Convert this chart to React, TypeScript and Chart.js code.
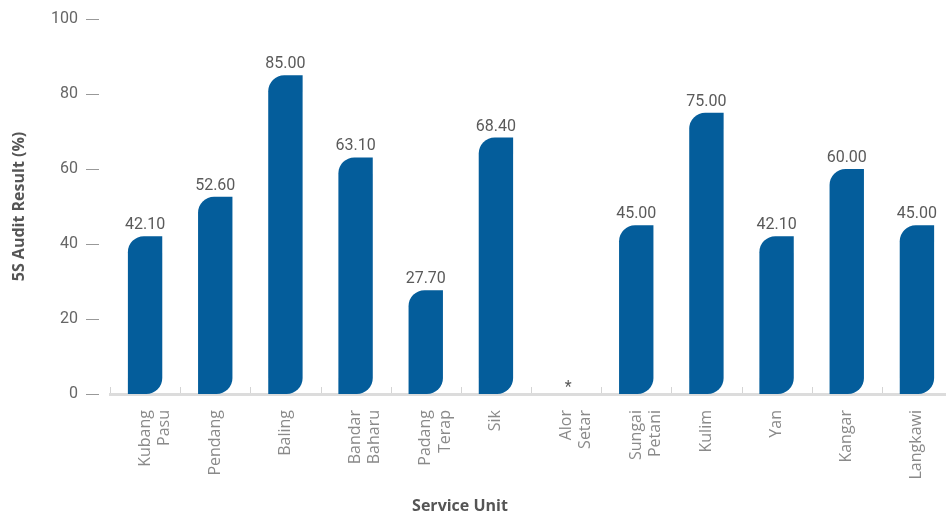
import React, { useEffect, useRef } from 'react';
import { Chart, registerables } from 'chart.js';

Chart.register(...registerables);

const categories: (string | string[])[] = [
  ['Kubang', 'Pasu'], 'Pendang', 'Baling', ['Bandar', 'Baharu'], ['Padang', 'Terap'], 'Sik',
  ['Alor', 'Setar'], ['Sungai', 'Petani'], 'Kulim', 'Yan', 'Kangar', 'Langkawi',
];
const values: (number | null)[] = [42.1, 52.6, 85.0, 63.1, 27.7, 68.4, null, 45.0, 75.0, 42.1, 60.0, 45.0];
const missingMark = '*';
const yTicks = [0, 20, 40, 60, 80, 100];
const yTitle = '5S Audit Result (%)';
const xTitle = 'Service Unit';

const FONT = 'Roboto, "Noto Sans", sans-serif';
const TITLE_FONT = '"Open Sans", Roboto, sans-serif';

const decor = {
  id: 'decor',
  afterDatasetsDraw(chart: any) {
    const ctx = chart.ctx;
    const meta = chart.getDatasetMeta(0);
    const xs = chart.scales.x;
    const ys = chart.scales.y;
    const area = chart.chartArea;
    ctx.save();
    ctx.font = `16px ${FONT}`;
    ctx.fillStyle = '#5a5a5a';
    ctx.textAlign = 'center';
    ctx.textBaseline = 'alphabetic';
    meta.data.forEach((bar: any, i: number) => {
      const v = values[i];
      if (v == null) {
        ctx.fillText(missingMark, xs.getPixelForValue(i) + 2, ys.getPixelForValue(0) - 2);
      } else {
        ctx.fillText(v.toFixed(2), bar.x, bar.y - 7);
      }
    });
    ctx.strokeStyle = '#d4d4d4';
    ctx.lineWidth = 1;
    for (let i = 0; i <= categories.length; i++) {
      const px = Math.round(xs.getPixelForValue(i - 0.5)) + 0.5;
      ctx.beginPath();
      ctx.moveTo(px, area.bottom - 1);
      ctx.lineTo(px, area.bottom - 7);
      ctx.stroke();
    }
    ctx.strokeStyle = '#999';
    yTicks.forEach((t) => {
      const py = Math.round(ys.getPixelForValue(t)) + 0.5;
      ctx.beginPath();
      ctx.moveTo(area.left - 24, py);
      ctx.lineTo(area.left - 11, py);
      ctx.stroke();
    });
    ctx.font = `bold 16px ${TITLE_FONT}`;
    ctx.fillStyle = '#555';
    ctx.textBaseline = 'middle';
    ctx.fillText(xTitle, 460, 506);
    ctx.restore();
  },
};

export default function App() {
  const ref = useRef<HTMLCanvasElement | null>(null);
  useEffect(() => {
    if (!ref.current) return;
    const chart = new Chart(ref.current, {
      type: 'bar',
      data: {
        labels: categories as any,
        datasets: [
          {
            data: values as any,
            backgroundColor: '#045d9b',
            borderRadius: { topLeft: 16, topRight: 0, bottomLeft: 0, bottomRight: 16 },
            borderSkipped: false,
            barPercentage: 0.49,
            categoryPercentage: 1,
          },
        ],
      },
      options: {
        animation: false,
        responsive: false,
        layout: { padding: { left: 0, right: 8, top: 19, bottom: 0 } },
        plugins: { legend: { display: false }, tooltip: { enabled: false } },
        scales: {
          x: {
            grid: { display: false },
            border: { display: true, color: '#dcdcdc', width: 3 },
            ticks: {
              color: '#8a8a8a',
              font: { family: TITLE_FONT, size: 16 },
              minRotation: 90,
              maxRotation: 90,
              autoSkip: false,
              padding: 8,
            },
            afterFit(scale: any) {
              scale.height = 121;
              scale.paddingLeft = 0;
              scale.paddingRight = 0;
            },
          },
          y: {
            min: 0,
            max: 100,
            grid: { display: false, drawTicks: false },
            border: { display: false },
            ticks: {
              stepSize: 20,
              color: '#666',
              font: { family: FONT, size: 16 },
              padding: 32,
            },
            title: {
              display: true,
              text: yTitle,
              color: '#555',
              font: { family: TITLE_FONT, size: 16, weight: 'bold' },
              padding: { top: 10, bottom: 0 },
            },
            afterFit(scale: any) {
              scale.width = 110;
              scale.paddingTop = 0;
              scale.paddingBottom = 0;
            },
          },
        },
      },
      plugins: [decor],
    });
    return () => chart.destroy();
  }, []);
  return (
    <div style={{ position: 'fixed', left: 0, top: 0, width: 946, height: 515, overflow: 'hidden', background: '#fff' }}>
      <canvas ref={ref} width={960} height={515} style={{ display: 'block' }} />
    </div>
  );
}
